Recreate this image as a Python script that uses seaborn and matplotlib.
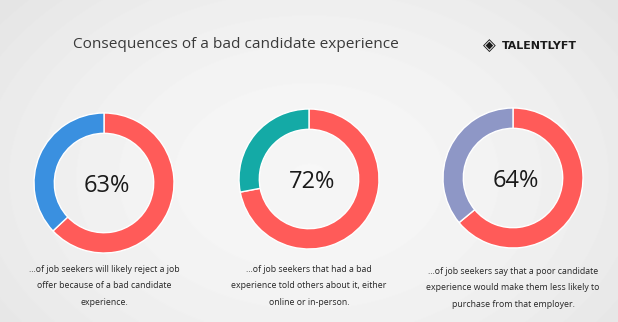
import numpy as np
import matplotlib
matplotlib.use("Agg")
import matplotlib.pyplot as plt
import seaborn as sns

sns.set_theme(style="white")
plt.rcParams['font.family'] = ['Open Sans', 'DejaVu Sans']

title = "Consequences of a bad candidate experience"
values = [63, 72, 64]
labels = ["63%", "72%", "64%"]
other_colors = ["#3A90E0", "#14AAA6", "#8E97C6"]
main_color = "#FF5B59"
captions = [
    "...of job seekers will likely reject a job\noffer because of a bad candidate\nexperience.",
    "...of job seekers that had a bad\nexperience told others about it, either\nonline or in-person.",
    "...of job seekers say that a poor candidate\nexperience would make them less likely to\npurchase from that employer.",
]

W, H = 618, 322
fig = plt.figure(figsize=(W / 100, H / 100), dpi=100)

# background radial gradient
bg = fig.add_axes([0, 0, 1, 1], zorder=-10)
yy, xx = np.mgrid[0:H, 0:W]
d = np.sqrt(((xx - W * 0.5) / (W * 0.6)) ** 2 + ((yy - H * 0.55) / (H * 0.8)) ** 2)
g = 0.965 - 0.06 * np.clip(d, 0, 1.2) ** 2
bg.imshow(g, cmap="gray", vmin=0, vmax=1, aspect="auto", extent=[0, 1, 0, 1])
bg.set_axis_off()

centers = [(104, 183), (309, 179), (513, 178)]
radius = 70
cap_y = [265, 265, 267]

for i, (val, lab, oc, cap) in enumerate(zip(values, labels, other_colors, captions)):
    cx, cy = centers[i]
    ax = fig.add_axes([(cx - radius) / W, (H - (cy + radius)) / H, 2 * radius / W, 2 * radius / H])
    ax.pie([val, 100 - val], colors=[main_color, oc], startangle=90, counterclock=False,
           radius=1.0, wedgeprops=dict(width=0.29, edgecolor="white", linewidth=1.0))
    ax.set_xlim(-1, 1)
    ax.set_ylim(-1, 1)
    ax.set_aspect("equal")
    ax.set_axis_off()
    ax.text(0.04, -0.04, lab, ha="center", va="center", fontsize=17, color="#1a1a1a")
    fig.text(cx / W, 1 - cap_y[i] / H, cap, ha="center", va="top", fontsize=6.3,
             color="#262626", linespacing=2.05)

fig.text(73 / W, 1 - 45 / H, title, ha="left", va="center", fontsize=11.1, color="#3a3a3a")

# logo
fig.text(489 / W, 1 - 46 / H, "\u25C8", ha="center", va="center", fontsize=12, color="#1a1a1a",
         family=['DejaVu Sans'])
fig.text(502 / W, 1 - 46 / H, "TALENTLYFT", ha="left", va="center", fontsize=7.9,
         color="#1a1a1a", fontweight="bold", family=['DejaVu Sans'])

fig.savefig("out.png", dpi=100)
